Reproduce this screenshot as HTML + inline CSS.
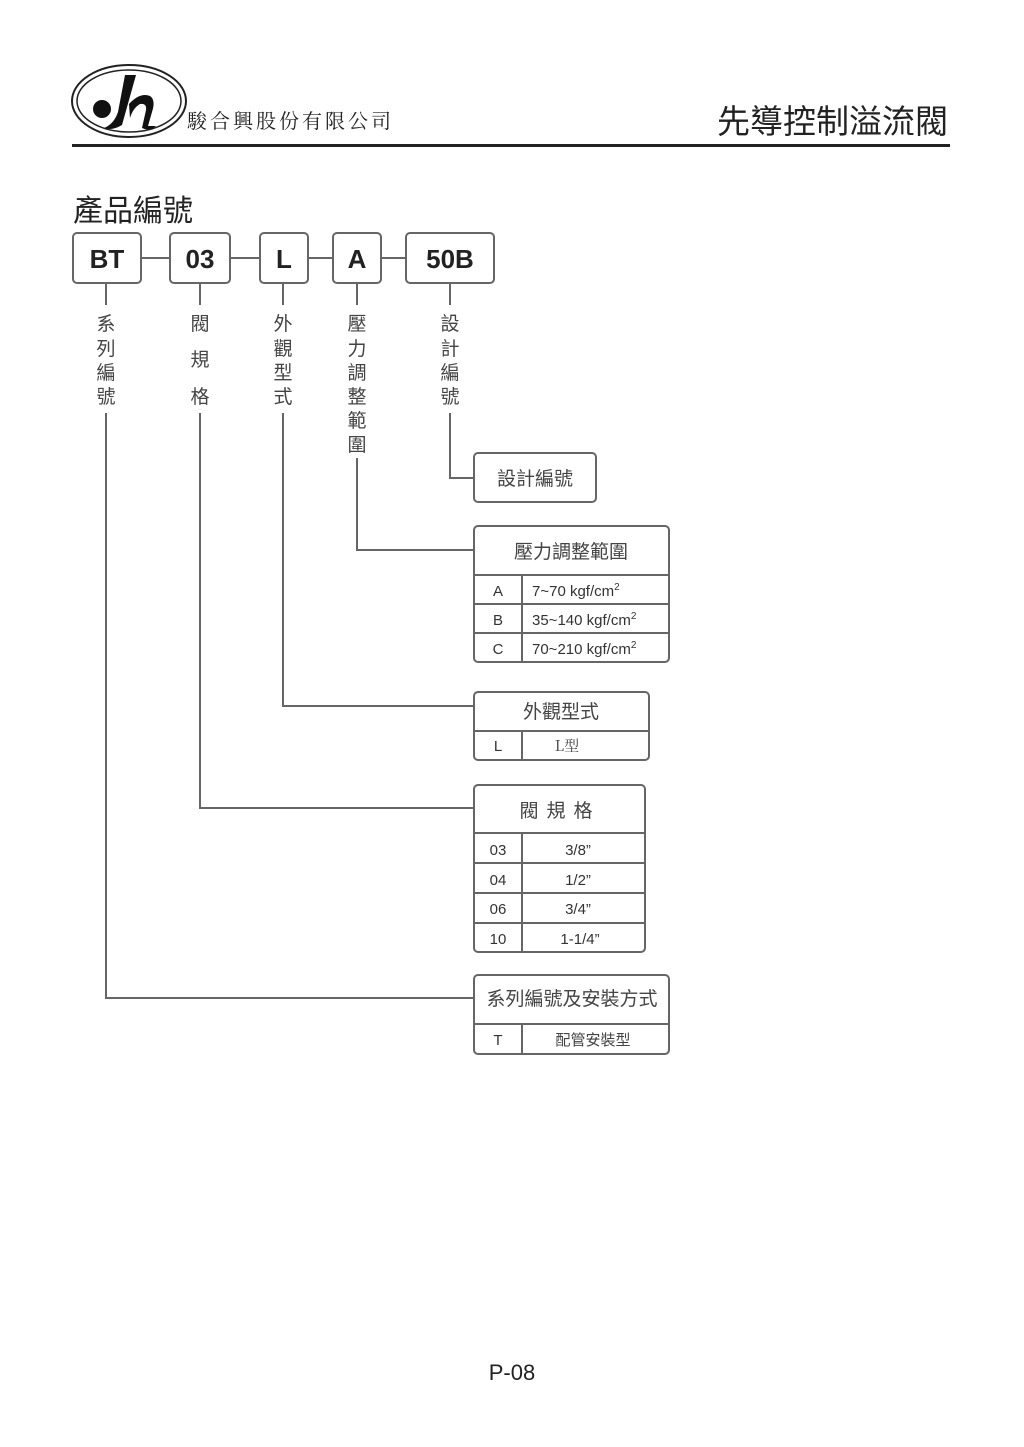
<!DOCTYPE html>
<html><head><meta charset="utf-8"><style>
html,body{margin:0;padding:0;background:#fff;}
svg{display:block;}
text{font-family:"Liberation Sans","Noto Sans CJK TC",sans-serif;fill:#333;}
.c{font-family:"Noto Sans CJK TC","WenQuanYi Zen Hei",sans-serif;fill:#444;}
</style></head><body>
<svg width="1024" height="1447" viewBox="0 0 1024 1447" xmlns="http://www.w3.org/2000/svg">
<!-- logo -->
<ellipse cx="129" cy="101" rx="57" ry="36" fill="none" stroke="#222" stroke-width="2"/>
<ellipse cx="129" cy="101" rx="52" ry="31" fill="none" stroke="#222" stroke-width="1.5"/>
<circle cx="102" cy="109" r="9" fill="#111"/>
<path d="M125 75 L136 75 L122 125 Q112 131 104 128 Q114 124 118 112 Z" fill="#111"/>
<path d="M129 104 Q140 92 150 96 Q156 100 152 112 L148 126 L156 126 Q150 132 142 128 L146 110 Q147 103 140 104 Q133 108 130 118 Z" fill="#111"/>
<text x="187" y="128" class="c" font-size="20" fill="#222" letter-spacing="3" style="font-family:'Noto Serif CJK SC','Noto Sans CJK TC',serif;fill:#222">駿合興股份有限公司</text>
<text x="948" y="133" text-anchor="end" class="c" font-size="33" style="fill:#222">先導控制溢流閥</text>
<rect x="72" y="144" width="878" height="3" fill="#222"/>
<text x="73" y="221" class="c" font-size="30" style="fill:#222">產品編號</text>

<g fill="none" stroke="#666" stroke-width="2">
<rect x="73" y="233" width="68" height="50" rx="4"/>
<rect x="170" y="233" width="60" height="50" rx="4"/>
<rect x="260" y="233" width="48" height="50" rx="4"/>
<rect x="333" y="233" width="48" height="50" rx="4"/>
<rect x="406" y="233" width="88" height="50" rx="4"/>
<path d="M141 258H170M230 258H260M308 258H333M381 258H406"/>
<path d="M106 283V305M200 283V305M283 283V305M357 283V305M450 283V305"/>
<path d="M106 413V998H474M200 413V808H474M283 413V706H474M357 458V550H474M450 413V478H474"/>
<rect x="474" y="453" width="122" height="49" rx="4"/>
<rect x="474" y="526" width="195" height="136" rx="4"/>
<path d="M474 575H669M474 604H669M474 633H669M522 575V662"/>
<rect x="474" y="692" width="175" height="68" rx="4"/>
<path d="M474 731H649M522 731V760"/>
<rect x="474" y="785" width="171" height="167" rx="4"/>
<path d="M474 833H645M474 863H645M474 893H645M474 923H645M522 833V952"/>
<rect x="474" y="975" width="195" height="79" rx="4"/>
<path d="M474 1024H669M522 1024V1054"/>
</g>

<g font-size="26" font-weight="bold" text-anchor="middle" style="fill:#222">
<text x="107" y="268" style="fill:#222">BT</text>
<text x="200" y="268" style="fill:#222">03</text>
<text x="284" y="268" style="fill:#222">L</text>
<text x="357" y="268" style="fill:#222">A</text>
<text x="450" y="268" style="fill:#222">50B</text>
</g>

<g class="c" font-size="19" text-anchor="middle">
<text x="106" y="330" class="c">系</text><text x="106" y="355" class="c">列</text><text x="106" y="379" class="c">編</text><text x="106" y="403" class="c">號</text>
<text x="200" y="330" class="c">閥</text><text x="200" y="366" class="c">規</text><text x="200" y="403" class="c">格</text>
<text x="283" y="330" class="c">外</text><text x="283" y="355" class="c">觀</text><text x="283" y="379" class="c">型</text><text x="283" y="403" class="c">式</text>
<text x="357" y="330" class="c">壓</text><text x="357" y="355" class="c">力</text><text x="357" y="379" class="c">調</text><text x="357" y="403" class="c">整</text><text x="357" y="427" class="c">範</text><text x="357" y="451" class="c">圍</text>
<text x="450" y="330" class="c">設</text><text x="450" y="355" class="c">計</text><text x="450" y="379" class="c">編</text><text x="450" y="403" class="c">號</text>
</g>

<g text-anchor="middle" font-size="19">
<text x="535" y="485" class="c">設計編號</text>
<text x="571" y="558" class="c">壓力調整範圍</text>
<text x="561" y="718" class="c">外觀型式</text>
<text x="560" y="817" class="c" letter-spacing="8">閥規格</text>
<text x="572" y="1005" class="c">系列編號及安裝方式</text>
</g>
<g font-size="15">
<text x="498" y="596" text-anchor="middle">A</text>
<text x="498" y="625" text-anchor="middle">B</text>
<text x="498" y="654" text-anchor="middle">C</text>
<text x="532" y="596">7~70 kgf/cm<tspan font-size="10" dy="-6">2</tspan></text>
<text x="532" y="625">35~140 kgf/cm<tspan font-size="10" dy="-6">2</tspan></text>
<text x="532" y="654">70~210 kgf/cm<tspan font-size="10" dy="-6">2</tspan></text>
<text x="498" y="751" text-anchor="middle">L</text>
<text x="567" y="751" text-anchor="middle" class="c" style="font-family:'Noto Serif CJK SC',serif">L型</text>
<text x="498" y="855" text-anchor="middle">03</text><text x="578" y="855" text-anchor="middle">3/8”</text>
<text x="498" y="885" text-anchor="middle">04</text><text x="578" y="885" text-anchor="middle">1/2”</text>
<text x="498" y="914" text-anchor="middle">06</text><text x="578" y="914" text-anchor="middle">3/4”</text>
<text x="498" y="944" text-anchor="middle">10</text><text x="580" y="944" text-anchor="middle">1-1/4”</text>
<text x="498" y="1045" text-anchor="middle">T</text>
<text x="593" y="1045" text-anchor="middle" class="c">配管安裝型</text>
</g>
<text x="512" y="1380" text-anchor="middle" font-size="22" style="fill:#222">P-08</text>
</svg>
</body></html>
